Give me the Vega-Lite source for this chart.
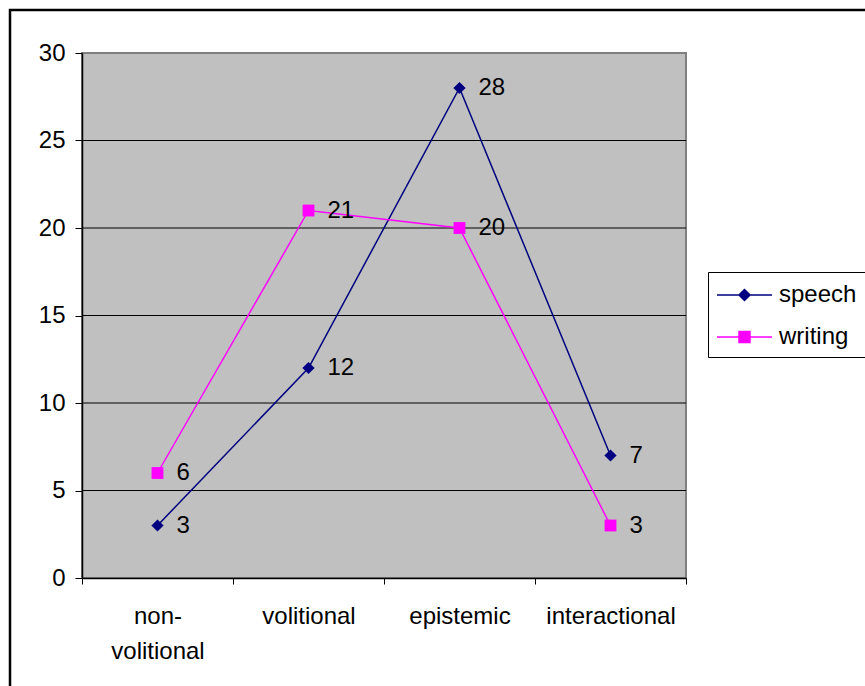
{
  "$schema": "https://vega.github.io/schema/vega-lite/v6.json",
  "width": 870,
  "height": 690,
  "autosize": {"type": "none"},
  "padding": {"left": 10, "top": 10, "right": 0, "bottom": 0},
  "background": "white",
  "datasets": {
    "counts": [
      {"category": "non-volitional", "series": "speech", "count": 3},
      {"category": "volitional", "series": "speech", "count": 12},
      {"category": "epistemic", "series": "speech", "count": 28},
      {"category": "interactional", "series": "speech", "count": 7},
      {"category": "non-volitional", "series": "writing", "count": 6},
      {"category": "volitional", "series": "writing", "count": 21},
      {"category": "epistemic", "series": "writing", "count": 20},
      {"category": "interactional", "series": "writing", "count": 3}
    ],
    "gridlines": [
      {"level": 5},
      {"level": 10},
      {"level": 15},
      {"level": 20},
      {"level": 25}
    ]
  },
  "layer": [
    {
      "data": {"values": [{}]},
      "mark": {"type": "rect", "fill": "#C0C0C0", "stroke": "#808080", "strokeWidth": 2},
      "encoding": {
        "x": {
          "datum": "non-volitional",
          "type": "nominal",
          "bandPosition": 0,
          "scale": {
            "type": "band",
            "domain": ["non-volitional", "volitional", "epistemic", "interactional"],
            "range": [72, 676],
            "paddingInner": 0,
            "paddingOuter": 0
          },
          "axis": {
            "title": null,
            "offset": -122,
            "tickBand": "extent",
            "domainColor": "black",
            "domainWidth": 1.5,
            "tickColor": "black",
            "tickSize": 6,
            "labelAngle": 0,
            "labelFontSize": 24,
            "labelColor": "black",
            "labelPadding": 20,
            "labelBaseline": "top",
            "labelLineHeight": 35,
            "labelLimit": 300,
            "labelExpr": "datum.value == 'non-volitional' ? ['non-', 'volitional'] : datum.label",
            "grid": false,
            "zindex": 1
          }
        },
        "x2": {"datum": "interactional", "bandPosition": 1},
        "y": {
          "datum": 0,
          "type": "quantitative",
          "scale": {"domain": [0, 30], "range": [568, 43], "nice": false},
          "axis": {
            "title": null,
            "offset": -72,
            "values": [0, 5, 10, 15, 20, 25, 30],
            "domainColor": "black",
            "domainWidth": 1.5,
            "tickColor": "black",
            "tickSize": 7,
            "labelFontSize": 24,
            "labelColor": "black",
            "labelPadding": 10,
            "grid": false,
            "zindex": 1
          }
        },
        "y2": {"datum": 30}
      }
    },
    {
      "data": {"name": "gridlines"},
      "mark": {"type": "rule", "color": "black", "strokeWidth": 1},
      "encoding": {
        "x": {"datum": "non-volitional", "type": "nominal", "bandPosition": 0},
        "x2": {"datum": "interactional", "bandPosition": 1},
        "y": {"field": "level", "type": "quantitative", "axis": {"title": null}}
      }
    },
    {
      "data": {"name": "counts"},
      "mark": {"type": "line", "strokeWidth": 1.5},
      "encoding": {
        "x": {"field": "category", "type": "nominal", "axis": {"title": null}},
        "y": {"field": "count", "type": "quantitative", "axis": {"title": null}},
        "color": {
          "field": "series",
          "type": "nominal",
          "scale": {"domain": ["speech", "writing"], "range": ["#000080", "#FF00FF"]},
          "legend": {
            "title": null,
            "orient": "none",
            "legendX": 698,
            "legendY": 262,
            "strokeColor": "black",
            "fillColor": "white",
            "padding": 8,
            "labelFontSize": 24,
            "labelColor": "black",
            "labelOffset": 33,
            "symbolSize": 784,
            "symbolStrokeWidth": 1.5,
            "rowPadding": 15,
            "encode": {
              "symbols": {
                "update": {
                  "shape": {"signal": "datum.value === 'speech' ? 'M-1,0H2.93M0.964,-0.393L1.357,0L0.964,0.393L0.571,0Z' : 'M-1,0H2.93M0.571,-0.393H1.357V0.393H0.571Z'"},
                  "fill": {"signal": "datum.value === 'speech' ? '#000080' : '#FF00FF'"}
                }
              }
            }
          }
        }
      }
    },
    {
      "data": {"name": "counts"},
      "transform": [{"filter": "datum.series === 'speech'"}],
      "mark": {"type": "point", "shape": "diamond", "filled": true, "size": 150, "opacity": 1, "color": "#000080"},
      "encoding": {
        "x": {"field": "category", "type": "nominal", "axis": {"title": null}},
        "y": {"field": "count", "type": "quantitative", "axis": {"title": null}}
      }
    },
    {
      "data": {"name": "counts"},
      "transform": [{"filter": "datum.series === 'writing'"}],
      "mark": {"type": "point", "shape": "square", "filled": true, "size": 140, "opacity": 1, "color": "#FF00FF"},
      "encoding": {
        "x": {"field": "category", "type": "nominal", "axis": {"title": null}},
        "y": {"field": "count", "type": "quantitative", "axis": {"title": null}}
      }
    },
    {
      "data": {"name": "counts"},
      "mark": {"type": "text", "align": "left", "baseline": "middle", "dx": 19, "fontSize": 24, "color": "black"},
      "encoding": {
        "x": {"field": "category", "type": "nominal", "axis": {"title": null}},
        "y": {"field": "count", "type": "quantitative", "axis": {"title": null}},
        "text": {"field": "count", "type": "quantitative"}
      }
    }
  ],
  "config": {
    "font": "Liberation Sans",
    "view": {"stroke": "black", "strokeWidth": 2.5, "fill": "white"}
  }
}
